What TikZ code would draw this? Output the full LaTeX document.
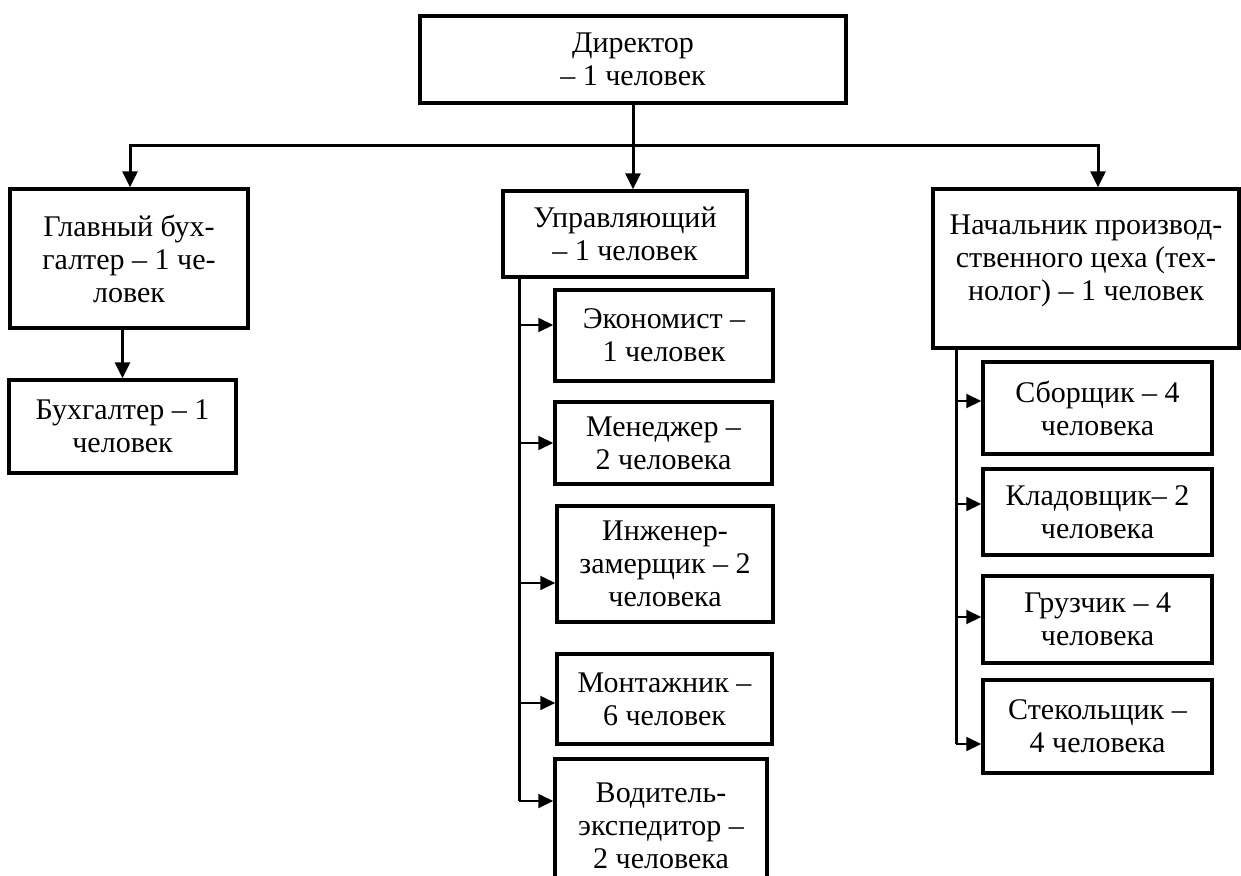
\documentclass[tikz,border=0pt]{standalone}
\usepackage{fontspec}
\setmainfont{Liberation Serif}
\usetikzlibrary{arrows.meta}
\newcommand{\chel}{человек}
\newcommand{\chelA}{человека}

\begin{document}
\begin{tikzpicture}[x=1pt, y=-1pt,
    box/.style={draw, line width=3.5pt, align=center, inner sep=0pt,
        font=\fontsize{30}{33}\selectfont},
    conn/.style={line width=3pt},
    bigArrow/.style={conn, -{Triangle[length=16pt,width=15pt]}},
    sideArrow/.style={line width=2pt, -{Triangle[length=15pt,width=14pt]}}]
        \useasboundingbox (0,0) rectangle (1241,875);

        % top level
        \node[box, minimum width=426pt, minimum height=87pt] (dir) at (633,59.5) {Директор\\– 1 \chel};
        \node[box, minimum width=238pt, minimum height=139pt] (glav) at (129,258.5) {Главный бух-\\галтер – 1 че-\\ловек};
        \node[box, minimum width=227pt, minimum height=93pt] (buh) at (122.5,426.5) {Бухгалтер – 1\\\chel};
        \node[box, minimum width=244pt, minimum height=86pt] (upr) at (625,234) {Управляющий\\– 1 \chel};
        \node[box, minimum width=306pt, minimum height=159pt, text depth=22pt] (nach) at (1086,268.5) {Начальник производ-\\ственного цеха (тех-\\нолог) – 1 \chel};

        % under the manager
        \node[box, minimum width=218pt, minimum height=91pt] (eco) at (664,335.5) {Экономист –\\1 \chel};
        \node[box, minimum width=217pt, minimum height=82pt] (men) at (663.5,443) {Менеджер –\\2 \chelA};
        \node[box, minimum width=216pt, minimum height=116pt] (inzh) at (665,564) {Инженер-\\замерщик – 2\\\chelA};
        \node[box, minimum width=215pt, minimum height=90pt] (mont) at (664.5,699) {Монтажник –\\6 \chel};
        \node[box, minimum width=212pt, minimum height=133pt] (vod) at (661,825.5) {Водитель-\\экспедитор –\\2 \chelA};

        % under the workshop head
        \node[box, minimum width=229pt, minimum height=92pt] (sbor) at (1097.5,408) {Сборщик – 4\\\chelA};
        \node[box, minimum width=229pt, minimum height=86pt] (klad) at (1097.5,512) {Кладовщик– 2\\\chelA};
        \node[box, minimum width=229pt, minimum height=87pt] (gruz) at (1097.5,619.5) {Грузчик – 4\\\chelA};
        \node[box, minimum width=229pt, minimum height=93pt] (stek) at (1097.5,726.5) {Стекольщик –\\4 \chelA};

        \coordinate (busL) at (130,145);
        \coordinate (busR) at (1098,145);
        \draw[bigArrow] (busR) -- (busL) -- (busL |- glav.north);
        \draw[bigArrow] (busL) -- (busR) -- (busR |- nach.north);
        \draw[bigArrow] (dir.south) -- (dir.south |- upr.north);
        \draw[bigArrow] (buh.north |- glav.south) -- (buh.north);

        \coordinate (uBot) at (519,801);
        \draw[conn] (uBot |- upr.south) -- (uBot);
        \foreach \n/\y in {eco/325, men/443, inzh/583, mont/703, vod/801}{
            \coordinate (u\n) at (519,\y);
            \draw[sideArrow] (u\n) -- (u\n -| \n.west);
        }

        \coordinate (nBot) at (956,744);
        \draw[conn] (nBot |- nach.south) -- (nBot);
        \foreach \n/\y in {sbor/401, klad/504, gruz/617, stek/744}{
            \coordinate (n\n) at (956,\y);
            \draw[sideArrow] (n\n) -- (n\n -| \n.west);
        }

\end{tikzpicture}
\end{document}
